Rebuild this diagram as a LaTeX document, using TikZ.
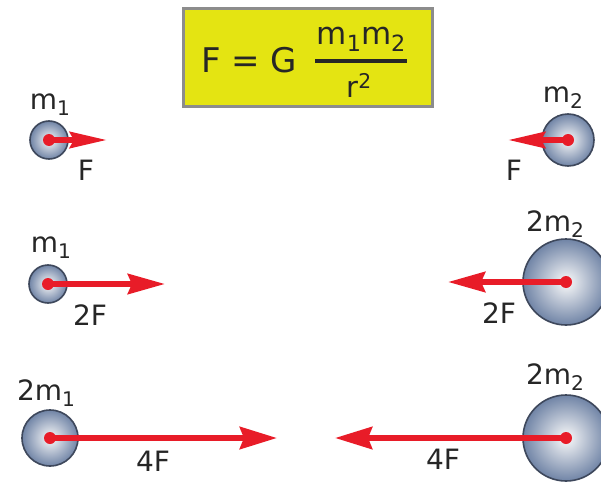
\documentclass[tikz,border=0pt]{standalone}
\usepackage{fontspec}
\setmainfont{DejaVu Sans}
\usetikzlibrary{arrows.meta}
\definecolor{boxyellow}{RGB}{228,228,18}
\definecolor{boxgray}{RGB}{140,140,140}
\definecolor{fred}{RGB}{232,28,40}
\definecolor{spherecol}{RGB}{112,132,166}
\definecolor{sphereedge}{RGB}{62,72,92}
\newcommand{\lowsub}[1]{\raisebox{-0.22em}{\fontsize{0.72em}{0.8em}\selectfont #1}}
\tikzset{
  mass/.style={circle, draw=sphereedge, line width=1.6pt, inner color=gray!4, outer color=spherecol, minimum size=#1, inner sep=0pt},
  lbl/.style={font=\fontsize{28}{31}\selectfont, inner sep=0pt, text=black!85},
  force/.style={draw=fred, line width=6pt, -{Stealth[length=37pt,width=#1,inset=4pt]}},
  reddot/.style={circle, fill=fred, minimum size=12pt, inner sep=0pt},
  formula/.style={inner sep=0pt, text=black!85}
}
\begin{document}
\begin{tikzpicture}[x=1pt,y=-1pt]
\useasboundingbox (0,0) rectangle (601,481);
\fill[white] (0,0) rectangle (601,481);
% formula box
\node[draw=boxgray, line width=3pt, fill=boxyellow, minimum width=249pt, minimum height=98pt, inner sep=0pt] (box) at (307.5,57.5) {};
\node[formula, font=\fontsize{34}{36}\selectfont] (fg) at (249,60) {F = G};
\node[formula, font=\fontsize{31}{34}\selectfont] (num) at (361,39) {m\lowsub{1}m\lowsub{2}};
\node[formula, font=\fontsize{29}{32}\selectfont] (den) at (359,85) {r\textsuperscript{2}};
\coordinate (barl) at (315,61);
\coordinate (barr) at (407,61);
\draw[line width=4pt, black!85] (barl) -- (barr);
% row 1
\node[mass=38pt] (a1) at (49,140) {};
\coordinate (ta1) at (107,140);
\draw[force=16pt] (a1.center) -- (ta1);
\node[reddot] at (a1.center) {};
\node[lbl] (la1) at (50,105) {m\lowsub{1}};
\node[lbl] (fa1) at (86,170) {F};
\node[mass=52pt] (b1) at (568,140) {};
\coordinate (tb1) at (508,140);
\draw[force=16pt] (b1.center) -- (tb1);
\node[reddot] at (b1.center) {};
\node[lbl] (lb1) at (563,98) {m\lowsub{2}};
\node[lbl] (fb1) at (514,170) {F};
% row 2
\node[mass=38pt] (a2) at (48,284) {};
\coordinate (ta2) at (165,284);
\draw[force=20pt] (a2.center) -- (ta2);
\node[reddot] at (a2.center) {};
\node[lbl] (la2) at (51,248) {m\lowsub{1}};
\node[lbl] (fa2) at (90,315) {2F};
\node[mass=86pt] (b2) at (566,282) {};
\coordinate (tb2) at (448,282);
\draw[force=20pt] (b2.center) -- (tb2);
\node[reddot] at (b2.center) {};
\node[lbl] (lb2) at (555,224) {2m\lowsub{2}};
\node[lbl] (fb2) at (499,313) {2F};
% row 3
\node[mass=56pt] (a3) at (50,438) {};
\coordinate (ta3) at (277,438);
\draw[force=22pt] (a3.center) -- (ta3);
\node[reddot] at (a3.center) {};
\node[lbl] (la3) at (46,393) {2m\lowsub{1}};
\node[lbl] (fa3) at (153,461) {4F};
\node[mass=86pt] (b3) at (566,438) {};
\coordinate (tb3) at (335,438);
\draw[force=22pt] (b3.center) -- (tb3);
\node[reddot] at (b3.center) {};
\node[lbl] (lb3) at (555,377) {2m\lowsub{2}};
\node[lbl] (fb3) at (443,459) {4F};
\end{tikzpicture}
\end{document}
